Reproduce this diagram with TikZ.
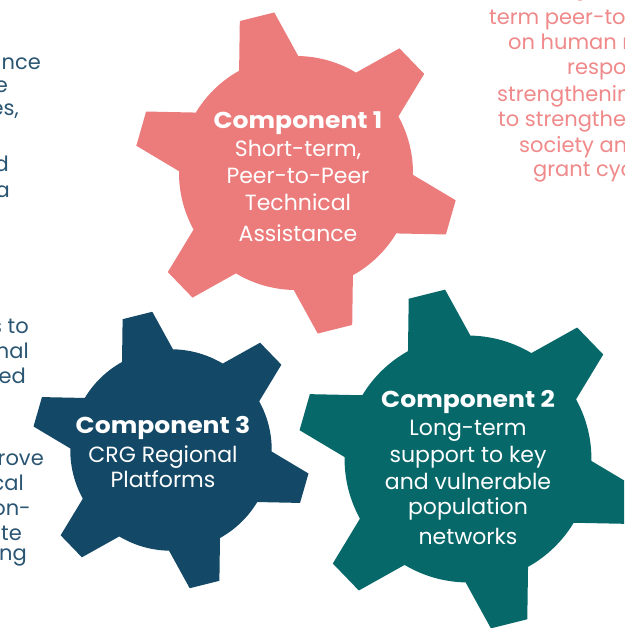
\documentclass[tikz,border=0pt]{standalone}
\usepackage{fontspec}
\setmainfont{Poppins}
\definecolor{salmon}{HTML}{EC7C7B}
\definecolor{tealg}{HTML}{07686A}
\definecolor{navy}{HTML}{134866}
\definecolor{lefttxt}{HTML}{2A5573}
\definecolor{righttxt}{HTML}{F0898A}
\newcommand{\gearshape}[4]{%
  \fill[#4, shift={(#1,#2)}, scale=#3] (0.9:117)
    \foreach \k in {0,...,5} {
      -- ({16+60*\k-15.1}:117) -- ({16+60*\k-6.3}:162) -- ({16+60*\k+6.3}:162) -- ({16+60*\k+15.1}:117)
      arc[start angle={16+60*\k+15.1}, end angle={16+60*(\k+1)-15.1}, radius=117]
    } -- cycle;}
\newcommand{\wideb}[1]{\scalebox{1.09}[1]{#1}}
\tikzset{
  ttl/.style={anchor=base, text=white, font=\bfseries\fontsize{23}{23}\selectfont, inner sep=0pt},
  body/.style={anchor=base, text=white, font=\fontsize{22}{22}\selectfont, inner sep=0pt},
  lt/.style={anchor=base east, text=lefttxt, font=\fontsize{21}{21}\selectfont, inner sep=0pt},
  rt/.style={anchor=base west, text=righttxt, font=\fontsize{21}{21}\selectfont, inner sep=0pt}
}
\begin{document}
\begin{tikzpicture}[x=1pt, y=-1pt]
\useasboundingbox (0,0) rectangle (624,628);
\clip (0,0) rectangle (624,628);
\fill[white] (0,0) rectangle (624,628);
% gears
\gearshape{296}{173}{1}{salmon}
\gearshape{468}{459}{1.055}{tealg}
\gearshape{171}{450}{0.861}{navy}
% gear 1 text
\node[ttl]  (g1t) at (298,129) {\wideb{Component 1}};
\node[body] (g1a) at (298,157) {Short-term,};
\node[body] (g1b) at (298,184) {Peer-to-Peer};
\node[body] (g1c) at (298,211) {Technical};
\node[body] (g1d) at (298,241) {Assistance};
% gear 2 text
\node[ttl]  (g2t) at (468,407) {\wideb{Component 2}};
\node[body] (g2a) at (468,435) {Long-term};
\node[body] (g2b) at (468,462) {support to key};
\node[body] (g2c) at (468,489) {and vulnerable};
\node[body] (g2d) at (468,514) {population};
\node[body] (g2e) at (468,544) {networks};
% gear 3 text
\node[ttl]  (g3t) at (163,433) {\wideb{Component 3}};
\node[body] (g3a) at (163,462) {CRG Regional};
\node[body] (g3b) at (163,487) {Platforms};
% left text fragments
\node[lt] (l1) at (41,70) {ance};
\node[lt] (l2) at (8,93) {e};
\node[lt] (l3) at (19,116) {es,};
\node[lt] (l4) at (9,172) {d};
\node[lt] (l5) at (10,197) {a};
\node[lt] (l6) at (29,333) {s to};
\node[lt] (l7) at (29,358) {nal};
\node[lt] (l8) at (26,383) {ed};
\node[lt] (l9) at (44,465) {rove};
\node[lt] (l10) at (24,490) {cal};
\node[lt] (l11) at (31,515) {on-};
\node[lt] (l12) at (22,540) {te};
\node[lt] (l13) at (27,560) {ng};
% right text fragments
\node[anchor=base west, text=righttxt, font=\bfseries\fontsize{21}{21}\selectfont, inner sep=0pt] (r0) at (576,-4) {y};
\node[rt] (r1) at (489,25) {term peer-to};
\node[rt] (r2) at (508,50) {on human r};
\node[rt] (r3) at (567,75) {respo};
\node[rt] (r4) at (497,102) {strengthenin};
\node[rt] (r5) at (498,127) {to strengthe};
\node[rt] (r6) at (519,153) {society an};
\node[rt] (r7) at (533,177) {grant cyc};
\end{tikzpicture}
\end{document}
